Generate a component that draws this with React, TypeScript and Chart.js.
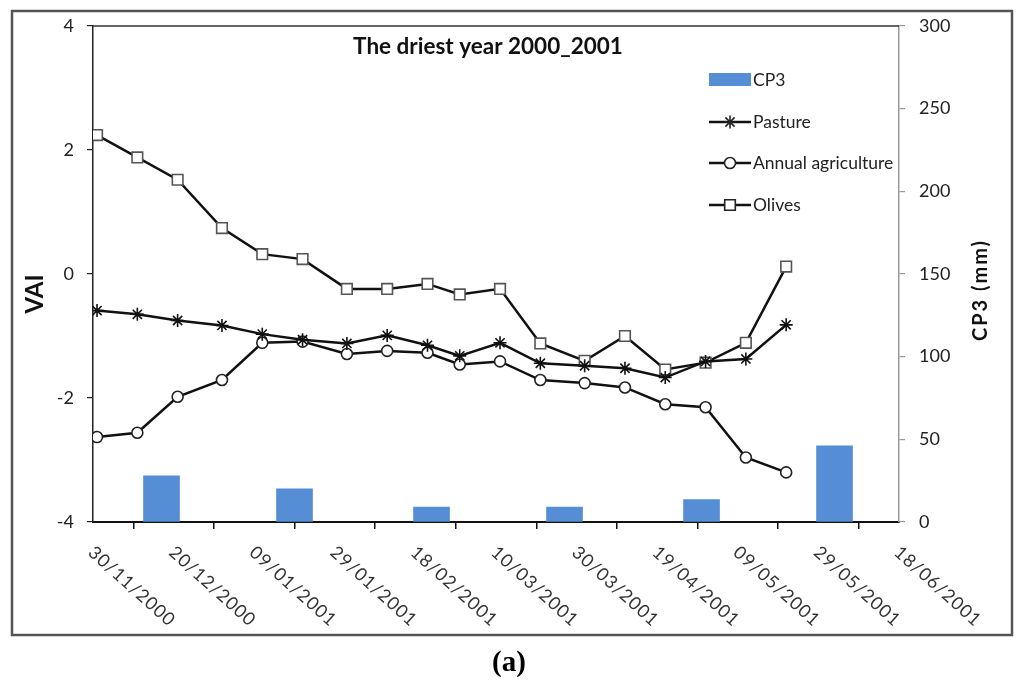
import React, { useEffect, useRef } from "react";
import { Chart, registerables } from "chart.js";

Chart.register(...registerables);

// ---- Data ----
const axisStart = "30/11/2000";
const xTickLabels = [
  "30/11/2000", "20/12/2000", "09/01/2001", "29/01/2001", "18/02/2001", "10/03/2001",
  "30/03/2001", "19/04/2001", "09/05/2001", "29/05/2001", "18/06/2001",
];
const pointDates = [
  "01/12/2000", "11/12/2000", "21/12/2000", "01/01/2001", "11/01/2001", "21/01/2001",
  "01/02/2001", "11/02/2001", "21/02/2001", "01/03/2001", "11/03/2001", "21/03/2001",
  "01/04/2001", "11/04/2001", "21/04/2001", "01/05/2001", "11/05/2001", "21/05/2001",
];
const pasture = [-0.59, -0.65, -0.75, -0.83, -0.97, -1.06, -1.12, -0.99, -1.15, -1.32, -1.11, -1.44, -1.48, -1.52, -1.67, -1.41, -1.37, -0.82];
const annualAgriculture = [-2.63, -2.56, -1.98, -1.71, -1.11, -1.09, -1.29, -1.24, -1.27, -1.46, -1.41, -1.71, -1.76, -1.83, -2.1, -2.15, -2.96, -3.2];
const olives = [2.24, 1.88, 1.52, 0.74, 0.32, 0.24, -0.24, -0.24, -0.16, -0.33, -0.24, -1.12, -1.4, -1.0, -1.54, -1.43, -1.11, 0.12];
const barDates = ["17/12/2000", "19/01/2001", "22/02/2001", "27/03/2001", "30/04/2001", "02/06/2001"];
const cp3 = [28, 20, 9, 9, 13.5, 46];

const FONT = "Lato, 'Open Sans', sans-serif";

function parseDate(s: string): number {
  const [d, m, y] = s.split("/").map(Number);
  return Date.UTC(y, m - 1, d);
}
function dayOf(s: string): number {
  return (parseDate(s) - parseDate(axisStart)) / 86400000;
}

const lineDs = (label: string, values: number[], style: any) => ({
  type: "line" as const,
  label,
  data: values.map((v, i) => ({ x: dayOf(pointDates[i]), y: v })),
  yAxisID: "y",
  borderColor: "#111",
  borderWidth: 2.5,
  tension: 0,
  fill: false,
  order: 1,
  pointBorderWidth: 1.6,
  ...style,
});

function drawMarker(ctx: CanvasRenderingContext2D, kind: string, x: number, y: number) {
  ctx.save();
  ctx.lineWidth = 1.6;
  ctx.strokeStyle = "#222";
  ctx.fillStyle = "#fff";
  ctx.beginPath();
  if (kind === "circle") {
    ctx.arc(x, y, 5.5, 0, Math.PI * 2);
    ctx.fill();
    ctx.stroke();
  } else if (kind === "rect") {
    ctx.rect(x - 5.3, y - 5.3, 10.6, 10.6);
    ctx.fill();
    ctx.stroke();
  } else if (kind === "star") {
    const r = 6.5;
    for (let k = 0; k < 4; k++) {
      const a = (k * Math.PI) / 4;
      ctx.moveTo(x - r * Math.cos(a), y - r * Math.sin(a));
      ctx.lineTo(x + r * Math.cos(a), y + r * Math.sin(a));
    }
    ctx.stroke();
  }
  ctx.restore();
}

const decorPlugin = {
  id: "decor",
  afterDraw(chart: any) {
    const ctx: any = chart.ctx;
    const area = chart.chartArea;
    const xs = chart.scales.x;
    ctx.save();

    // outer frame
    ctx.strokeStyle = "#555";
    ctx.lineWidth = 2.5;
    ctx.strokeRect(12, 11, 1000, 624);

    // top border of plot
    ctx.strokeStyle = "#333";
    ctx.lineWidth = 1.5;
    ctx.beginPath();
    ctx.moveTo(area.left, area.top);
    ctx.lineTo(area.right, area.top);
    ctx.stroke();

    // title
    ctx.fillStyle = "#111";
    ctx.font = `bold 22.5px ${FONT}`;
    ctx.textAlign = "center";
    ctx.textBaseline = "middle";
    ctx.fillText("The driest year 2000_2001", 488, 47);

    // axis titles
    ctx.save();
    ctx.translate(35, 294);
    ctx.rotate(-Math.PI / 2);
    ctx.font = `bold 24px ${FONT}`;
    ctx.fillText("VAI", 0, 0);
    ctx.restore();
    ctx.save();
    ctx.translate(981, 290);
    ctx.rotate(-Math.PI / 2);
    ctx.font = `bold 20px ${FONT}`;
    ctx.letterSpacing = "2px";
    ctx.fillText("CP3 (mm)", 0, 0);
    ctx.restore();

    // x tick labels rotated clockwise
    ctx.save();
    ctx.font = `18px ${FONT}`;
    ctx.letterSpacing = "1px";
    ctx.fillStyle = "#333";
    ctx.textAlign = "left";
    ctx.textBaseline = "top";
    xs.ticks.forEach((t: any, i: number) => {
      const label = xTickLabels[i];
      if (label === undefined) return;
      const px = xs.getPixelForValue(t.value);
      ctx.save();
      ctx.translate(px + 4, area.bottom + 21);
      ctx.rotate((42 * Math.PI) / 180);
      ctx.fillText(label, 0, 0);
      ctx.restore();
    });
    ctx.restore();

    // legend
    const lx = 709;
    const lw = 42;
    ctx.font = `17.5px ${FONT}`;
    ctx.textBaseline = "middle";
    ctx.textAlign = "left";
    ctx.fillStyle = "#558ED5";
    ctx.fillRect(lx, 73, lw, 13);
    ctx.fillStyle = "#222";
    ctx.fillText("CP3", lx + lw + 2, 80);
    const items: [string, string, number][] = [
      ["Pasture", "star", 122],
      ["Annual agriculture", "circle", 163],
      ["Olives", "rect", 205],
    ];
    items.forEach(([label, kind, y]) => {
      ctx.strokeStyle = "#111";
      ctx.lineWidth = 2.5;
      ctx.beginPath();
      ctx.moveTo(lx, y);
      ctx.lineTo(lx + lw, y);
      ctx.stroke();
      drawMarker(ctx, kind, lx + lw / 2, y);
      ctx.fillStyle = "#222";
      ctx.fillText(label, lx + lw + 2, y);
    });

    // caption
    ctx.font = "bold 29px 'Liberation Serif', 'DejaVu Serif', serif";
    ctx.textAlign = "center";
    ctx.fillStyle = "#000";
    ctx.fillText("(a)", 509, 664);

    ctx.restore();
  },
};

export default function App() {
  const ref = useRef<HTMLCanvasElement | null>(null);

  useEffect(() => {
    document.body.style.margin = "0";
    const canvas = ref.current;
    if (!canvas) return;
    const chart = new Chart(canvas, {
      type: "line",
      data: {
        datasets: [
          lineDs("Pasture", pasture, {
            pointStyle: "star",
            pointRadius: 6.5,
            pointBackgroundColor: "#111",
            pointBorderColor: "#111",
          }),
          lineDs("Annual agriculture", annualAgriculture, {
            pointStyle: "circle",
            pointRadius: 5.5,
            pointBackgroundColor: "#fff",
            pointBorderColor: "#222",
          }),
          lineDs("Olives", olives, {
            pointStyle: "rect",
            pointRadius: 7.5,
            pointBackgroundColor: "#fff",
            pointBorderColor: "#555",
          }),
          {
            type: "bar" as const,
            label: "CP3",
            data: cp3.map((v, i) => ({ x: dayOf(barDates[i]), y: v })),
            yAxisID: "y1",
            backgroundColor: "#558ED5",
            borderWidth: 0,
            barThickness: 36,
            order: 10,
          } as any,
        ],
      },
      options: {
        responsive: false,
        animation: false,
        layout: { padding: { left: 0, right: 0, top: 26, bottom: 0 } },
        plugins: {
          legend: { display: false },
          tooltip: { enabled: false },
          title: { display: false },
        },
        scales: {
          x: {
            type: "linear",
            min: 0,
            max: 200,
            offset: false,
            ticks: { display: false, stepSize: 20 },
            grid: { display: true, drawOnChartArea: false, drawTicks: true, tickLength: 7, color: "#111", lineWidth: 1.5 },
            border: { display: true, color: "#111", width: 2 },
            afterFit: (s: any) => {
              s.height = 176;
            },
          },
          y: {
            type: "linear",
            position: "left",
            min: -4,
            max: 4,
            ticks: { stepSize: 2, padding: 13, color: "#222", font: { family: FONT, size: 18 } },
            grid: { drawOnChartArea: false, tickLength: 6, color: "#222", lineWidth: 1.2 },
            border: { display: true, color: "#222", width: 1.5 },
            afterFit: (s: any) => {
              s.width = 93;
            },
          },
          y1: {
            type: "linear",
            position: "right",
            min: 0,
            max: 300,
            ticks: { stepSize: 50, padding: 14, color: "#222", font: { family: FONT, size: 18 } },
            grid: { drawOnChartArea: false, tickLength: 6, color: "#999", lineWidth: 1.2 },
            border: { display: true, color: "#999", width: 1.5 },
            afterFit: (s: any) => {
              s.width = 125;
            },
          },
        },
      } as any,
      plugins: [decorPlugin],
    });
    return () => chart.destroy();
  }, []);

  return <canvas ref={ref} width={1024} height={698} style={{ display: "block" }} />;
}
